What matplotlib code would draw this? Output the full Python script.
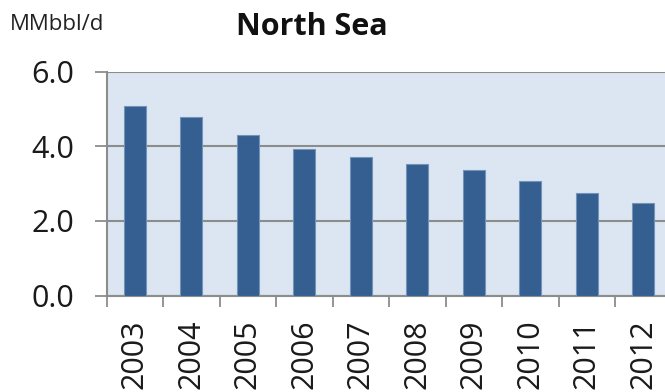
import matplotlib
matplotlib.use("Agg")
import matplotlib.pyplot as plt
import numpy as np

years = ["2003", "2004", "2005", "2006", "2007", "2008", "2009", "2010", "2011", "2012"]
production = [5.07, 4.79, 4.29, 3.93, 3.70, 3.51, 3.37, 3.06, 2.74, 2.47]
yticks = [0.0, 2.0, 4.0, 6.0]
ytick_labels = ["0.0", "2.0", "4.0", "6.0"]

plt.rcParams['font.family'] = ['Open Sans', 'DejaVu Sans']

W, H = 665, 392
fig = plt.figure(figsize=(W / 100, H / 100), dpi=100)
left, right, top, bottom = 106.5, 671.5, 71.5, 295.5
ax = fig.add_axes([left / W, 1 - bottom / H, (right - left) / W, (bottom - top) / H])

ax.set_facecolor("#DCE6F2")
x = np.arange(len(years))
ax.bar(x, production, width=0.39, color="#355F91", edgecolor="#7393BA",
       linewidth=0.8, zorder=3)

ax.set_xlim(-0.5, len(years) - 0.5)
ax.set_ylim(0, 6)
ax.set_yticks(yticks)
ax.set_yticklabels(ytick_labels, fontsize=22, color="#1a1a1a")
ax.yaxis.grid(True, color="#8C8C8C", linewidth=1.5, zorder=1)
ax.set_axisbelow(True)

ax.set_xticks(x)
ax.set_xticklabels(years, rotation=90, fontsize=22, color="#1a1a1a")
ax.set_xticks(np.arange(len(years)) - 0.5, minor=True)
ax.tick_params(axis="x", which="major", length=0, pad=17)
ax.tick_params(axis="x", which="minor", length=8, width=1.3, color="#8C8C8C", direction="out")
ax.tick_params(axis="y", length=9, width=1.3, color="#8C8C8C", direction="out", pad=14)

for s in ["left", "bottom"]:
    ax.spines[s].set_color("#8C8C8C")
    ax.spines[s].set_linewidth(1.5)
for s in ["top", "right"]:
    ax.spines[s].set_visible(False)

fig.text(311.7 / W, 1 - 27 / H, "North Sea", fontsize=22, fontweight="bold",
         ha="center", va="center", color="#111111")
fig.text(10 / W, 1 - 25 / H, "MMbbl/d", fontsize=16, ha="left", va="center",
         color="#222222")

fig.savefig("out.png", dpi=100)
